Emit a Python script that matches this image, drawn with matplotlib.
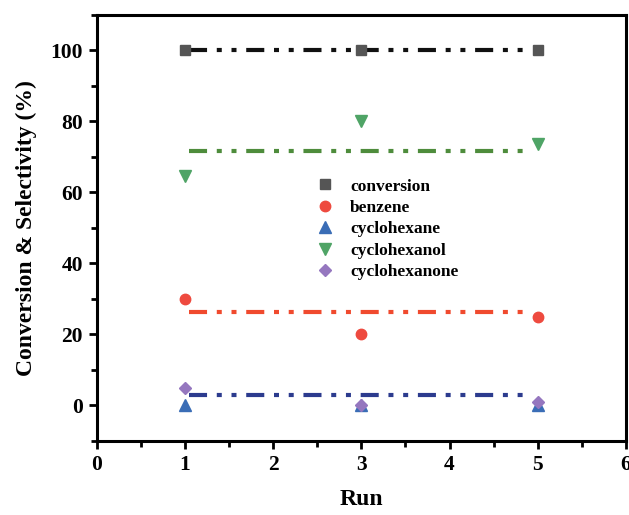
import matplotlib
matplotlib.use('Agg')
import matplotlib.pyplot as plt
from matplotlib.ticker import MultipleLocator

plt.rcParams['font.family'] = ['Liberation Serif', 'DejaVu Serif']
plt.rcParams['font.weight'] = 'bold'
plt.rcParams['lines.scale_dashes'] = False

runs = [1, 3, 5]
conversion = [100, 100, 100]
benzene = [30, 20, 25]
cyclohexane = [0, 0, 0]
cyclohexanol = [64.5, 80, 73.5]
cyclohexanone = [5, 0, 1]

# average guide lines
line_span = [1.05, 4.9]
line_levels = [100, 71.7, 26.3, 2.8]
line_colors = ['#111111', '#4e8c3c', '#f04a2e', '#2c3b8e']

fig = plt.figure(figsize=(6.29, 5.15), dpi=100)
ax = fig.add_axes([0.154, 0.144, 0.841, 0.827])

for lvl, c in zip(line_levels, line_colors):
    ax.plot(line_span, [lvl, lvl], color=c, lw=3,
            dashes=(13, 7, 3.6, 7, 3.6, 7), zorder=2)

ax.plot(runs, conversion, 's', color='#555555', ms=6.5, ls='none', label='conversion', zorder=3)
ax.plot(runs, benzene, 'o', color='#ee4a3f', ms=7.5, ls='none', label='benzene', zorder=3)
ax.plot(runs, cyclohexane, '^', color='#3a6db6', ms=8, ls='none', label='cyclohexane', zorder=3)
ax.plot(runs, cyclohexanol, 'v', color='#4fa466', ms=8, ls='none', label='cyclohexanol', zorder=3)
ax.plot(runs, cyclohexanone, 'D', color='#9577bf', ms=6.5, ls='none', label='cyclohexanone', zorder=4)

ax.set_xlim(0, 6)
ax.set_ylim(-10, 110)
ax.xaxis.set_major_locator(MultipleLocator(1))
ax.xaxis.set_minor_locator(MultipleLocator(0.5))
ax.yaxis.set_major_locator(MultipleLocator(20))
ax.yaxis.set_minor_locator(MultipleLocator(10))
ax.set_yticks([0, 20, 40, 60, 80, 100])

for s in ax.spines.values():
    s.set_linewidth(2.2)
ax.tick_params(which='major', direction='out', length=6, width=2, labelsize=15.5, pad=4)
ax.tick_params(which='minor', direction='out', length=4, width=2)
ax.tick_params(top=False, right=False)

ax.set_xlabel('Run', fontsize=17, fontweight='bold', labelpad=10)
ax.set_ylabel('Conversion & Selectivity (%)', fontsize=17, fontweight='bold', labelpad=10)

ax.legend(loc='center', bbox_to_anchor=(0.548, 0.497), frameon=False,
          prop={'size': 12.5, 'weight': 'bold'}, handlelength=1.1,
          handletextpad=0.9, labelspacing=0.3, numpoints=1)

fig.savefig('out.png', dpi=100)
